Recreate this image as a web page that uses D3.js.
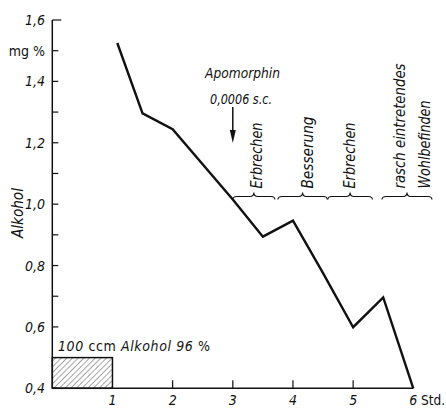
<!DOCTYPE html>
<html>
<head>
<meta charset="UTF-8">
<title>Alkohol</title>
<script src="https://d3js.org/d3.v7.min.js"></script>
<style>
  body { margin: 0; background: #fff; }
  svg text { font-family: "DejaVu Sans Condensed", "DejaVu Sans", sans-serif; fill: #111; }
</style>
</head>
<body>
<svg id="chart" width="446" height="408"></svg>
<script>
// blood alcohol curve (mg %) over hours
var hours = [1.08, 1.5, 2.0, 3.0, 3.5, 4.0, 4.5, 5.0, 5.5, 6.0];
var alcohol = [1.525, 1.296, 1.244, 1.015, 0.894, 0.946, 0.775, 0.599, 0.696, 0.4];

var yTicks = [0.4, 0.6, 0.8, 1.0, 1.2, 1.4, 1.6];
var yMinor = [0.7, 0.9, 1.1, 1.3, 1.5];
var xTicks = [1, 2, 3, 4, 5, 6];

// intake bar: 0..1 h, up to 0.5
var intake = {from: 0, to: 1, level: 0.5};

// brackets over the curve: [start h, end h, label lines]
var bracketStart = [3.0, 3.75, 4.58, 5.48];
var bracketEnd = [3.7, 4.57, 5.32, 6.31];
var bracketLabels = [["Erbrechen"], ["Besserung"], ["Erbrechen"], ["rasch eintretendes", "Wohlbefinden"]];
var labelShift = [[8], [10], [5], [-2, 23]];
var labelLen = [[66], [72], [66], [125, 88]];

var svg = d3.select("#chart");

var x = d3.scaleLinear().domain([0, 6]).range([52.3, 413.3]);
var y = d3.scaleLinear().domain([0.4, 1.6]).range([388.3, 20]);

function comma(v) { return d3.format(".1f")(v).replace(".", ","); }

// hatch pattern
var pat = svg.append("defs").append("pattern")
    .attr("id", "hatch").attr("patternUnits", "userSpaceOnUse")
    .attr("width", 4).attr("height", 4)
    .attr("patternTransform", "rotate(45)");
pat.append("line").attr("x1", 0).attr("y1", 0).attr("x2", 0).attr("y2", 4)
    .attr("stroke", "#222").attr("stroke-width", 0.8);

svg.append("rect")
    .attr("x", x(intake.from)).attr("y", y(intake.level))
    .attr("width", x(intake.to) - x(intake.from))
    .attr("height", y(0.4) - y(intake.level))
    .attr("fill", "url(#hatch)").attr("stroke", "#111").attr("stroke-width", 1.5);

// axes
svg.append("line").attr("x1", x(0)).attr("x2", x(0)).attr("y1", y(1.6)).attr("y2", y(0.4))
    .attr("stroke", "#111").attr("stroke-width", 1.5);
svg.append("line").attr("x1", x(0)).attr("x2", x(6)).attr("y1", y(0.4)).attr("y2", y(0.4))
    .attr("stroke", "#111").attr("stroke-width", 1.5);

svg.selectAll(".ytick").data(yTicks.concat(yMinor)).enter().append("line")
    .attr("x1", x(0)).attr("x2", function (d) { return x(0) + (d == 1.6 ? 9 : 6); })
    .attr("y1", function (d) { return y(d); }).attr("y2", function (d) { return y(d); })
    .attr("stroke", "#111").attr("stroke-width", 1.2);

svg.selectAll(".ylab").data(yTicks).enter().append("text")
    .attr("x", 45).attr("y", function (d) { return y(d) + 5; })
    .attr("text-anchor", "end").attr("font-style", "italic").attr("font-size", 14)
    .text(comma);

svg.append("text").attr("x", 45).attr("y", y(1.5) + 5)
    .attr("text-anchor", "end").attr("font-size", 14).text("mg %");

svg.append("text")
    .attr("transform", "translate(23," + y(0.971) + ") rotate(-90)")
    .attr("text-anchor", "middle").attr("font-style", "italic").attr("font-size", 15)
    .attr("textLength", 50).attr("lengthAdjust", "spacingAndGlyphs")
    .text("Alkohol");

svg.selectAll(".xtick").data(xTicks.filter(function (d) { return d > 1 && d < 6; })).enter().append("line")
    .attr("x1", function (d) { return x(d); }).attr("x2", function (d) { return x(d); })
    .attr("y1", y(0.4)).attr("y2", y(0.4) - 8)
    .attr("stroke", "#111").attr("stroke-width", 1.2);

svg.selectAll(".xlab").data(xTicks).enter().append("text")
    .attr("x", function (d) { return x(d); }).attr("y", 405)
    .attr("text-anchor", "middle").attr("font-style", "italic").attr("font-size", 14)
    .text(function (d) { return d; });

svg.append("text").attr("x", 421).attr("y", 405).attr("font-size", 14)
    .attr("textLength", 24).attr("lengthAdjust", "spacingAndGlyphs").text("Std.");

// intake label
var il = svg.append("text").attr("x", 58).attr("y", 351).attr("font-size", 14)
    .attr("textLength", 152).attr("lengthAdjust", "spacing");
il.append("tspan").attr("font-style", "italic").text("100  ");
il.append("tspan").text("ccm ");
il.append("tspan").attr("font-style", "italic").text("Alkohol  96 ");
il.append("tspan").text("%");

// curve
var pts = hours.map(function (h, i) { return [h, alcohol[i]]; });
svg.append("path").datum(pts)
    .attr("d", d3.line().x(function (d) { return x(d[0]); }).y(function (d) { return y(d[1]); }))
    .attr("fill", "none").attr("stroke", "#111").attr("stroke-width", 2.4)
    .attr("stroke-linejoin", "miter");

// Apomorphin annotation
svg.append("text").attr("x", 205).attr("y", 78).attr("font-style", "italic").attr("font-size", 14)
    .attr("textLength", 75).attr("lengthAdjust", "spacingAndGlyphs")
    .text("Apomorphin");
svg.append("text").attr("x", 210).attr("y", 104).attr("font-style", "italic").attr("font-size", 14)
    .attr("textLength", 62).attr("lengthAdjust", "spacingAndGlyphs")
    .text("0,0006 s.c.");
svg.append("line").attr("x1", x(3)).attr("x2", x(3)).attr("y1", 107).attr("y2", 134)
    .attr("stroke", "#111").attr("stroke-width", 1.5);
svg.append("path")
    .attr("d", "M" + (x(3) - 3) + ",130 L" + (x(3) + 3) + ",130 L" + x(3) + ",143 Z")
    .attr("fill", "#111");

// brackets
var by = 196.5;
bracketStart.forEach(function (s, i) {
    var x0 = x(s), x1 = x(bracketEnd[i]), m = (x0 + x1) / 2;
    var d = "M" + x0 + "," + (by + 3) +
        " Q" + x0 + "," + by + " " + (x0 + 4) + "," + by +
        " L" + (m - 4) + "," + by +
        " Q" + m + "," + by + " " + m + "," + (by - 4) +
        " Q" + m + "," + by + " " + (m + 4) + "," + by +
        " L" + (x1 - 4) + "," + by +
        " Q" + x1 + "," + by + " " + x1 + "," + (by + 3);
    svg.append("path").attr("d", d).attr("fill", "none").attr("stroke", "#111").attr("stroke-width", 1.1);

    bracketLabels[i].forEach(function (t, j) {
        svg.append("text")
            .attr("transform", "translate(" + (m + labelShift[i][j]) + "," + (by - 8) + ") rotate(-90)")
            .attr("font-style", "italic").attr("font-size", 15)
            .attr("textLength", labelLen[i][j]).attr("lengthAdjust", "spacingAndGlyphs")
            .text(t);
    });
});
</script>
</body>
</html>
